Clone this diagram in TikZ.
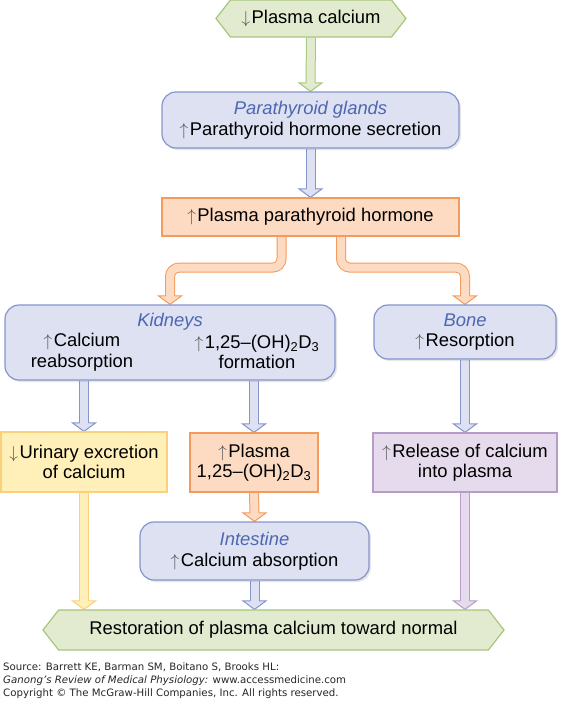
\documentclass[tikz,border=0pt]{standalone}
\usepackage{fontspec}
\setmainfont{Liberation Sans}
\newfontfamily\footfont{DejaVu Sans}
\usetikzlibrary{calc,shapes.symbols,shadows,backgrounds}
\definecolor{GrnFill}{HTML}{E2EBD0}
\definecolor{GrnLine}{HTML}{A7C67B}
\definecolor{BluFill}{HTML}{DDE1F2}
\definecolor{BluLine}{HTML}{8594CC}
\definecolor{BluText}{HTML}{4D67B0}
\definecolor{OrgFill}{HTML}{FDDBC3}
\definecolor{OrgLine}{HTML}{F49A5C}
\definecolor{YelFill}{HTML}{FFEFB8}
\definecolor{YelLine}{HTML}{FBD07A}
\definecolor{PurFill}{HTML}{E6DBEC}
\definecolor{PurLine}{HTML}{B79CC9}
\definecolor{ArrGray}{HTML}{555555}

\newcommand{\arrup}{{\color{ArrGray}$\uparrow$}\hspace{1.5pt}}
\newcommand{\arrdn}{{\color{ArrGray}$\downarrow$}\hspace{1.5pt}}
\newcommand{\organname}[1]{{\color{BluText}\itshape #1}}

\tikzset{
  dhead/.pic={\filldraw (-4.5,8.5) -- (-11.5,8.5) -- (0,0) -- (11.5,8.5) -- (4.5,8.5);},
  arrshaft/.style={draw=#1Line, double=#1Fill, double distance=8pt, line width=1pt},
  arrhead/.style={draw=#1Line, fill=#1Fill, line width=1pt, line join=miter}
}
% straight block arrow: colour, start, tip
\newcommand{\vblk}[3]{%
  \draw[arrshaft=#1] (#2) -- ($(#3)+(0,8)$);
  \pic[arrhead=#1] at (#3) {dhead};
}

\begin{document}
\begin{tikzpicture}[x=1pt, y=1pt, font=\fontsize{18.4}{20.5}\selectfont,
  hexa/.style={signal, signal to=west and east, signal pointer angle=104, draw=GrnLine, fill=GrnFill, line width=1.2pt, inner sep=0pt},
  organ/.style={draw=BluLine, fill=BluFill, line width=1.2pt, rounded corners=14, align=center, inner sep=0pt,
    drop shadow={opacity=0.2, shadow xshift=2pt, shadow yshift=-2pt}},
  conc/.style={draw=#1Line, fill=#1Fill, line width=1.2pt, align=center, inner sep=0pt},
  plain/.style={align=center, inner sep=0pt},
  foot/.style={anchor=west, inner sep=0pt, text=black!85, font=\footfont\fontsize{10.2}{12}\selectfont}
]
\useasboundingbox (0,0) rectangle (564,-701);

\node[hexa, minimum width=190, minimum height=37] (low) at (311,-18.5) {\arrdn Plasma calcium};
\node[organ, minimum width=297, minimum height=56] (glands) at (310.5,-120) {\organname{Parathyroid glands}\\\arrup Parathyroid hormone secretion};
\node[conc=Org, minimum width=297, minimum height=38] (pth) at (310.5,-217) {\arrup Plasma parathyroid hormone};

\node[organ, minimum width=330, minimum height=75] (kid) at (170,-342.5) {};
\node[plain] (kidtitle) at (170,-322) {\organname{Kidneys}};
\node[plain] (kidreab) at (82,-352) {\arrup Calcium\\reabsorption};
\node[plain] (kidform) at (257,-352) {\arrup 1,25--(OH)\textsubscript{2}D\textsubscript{3}\\formation};
\node[organ, minimum width=182, minimum height=54] (bone) at (465,-332) {\organname{Bone}\\\arrup Resorption};

\node[conc=Yel, minimum width=166, minimum height=60] (urine) at (84,-462) {\arrdn Urinary excretion\\of calcium};
\node[conc=Org, minimum width=128, minimum height=59] (plasd) at (254,-462.5) {\arrup Plasma\\1,25--(OH)\textsubscript{2}D\textsubscript{3}};
\node[conc=Pur, minimum width=184, minimum height=59] (release) at (465,-462.5) {\arrup Release of calcium\\into plasma};
\node[organ, minimum width=229, minimum height=58] (gut) at (254.5,-551) {\organname{Intestine}\\\arrup Calcium absorption};

\node[hexa, minimum width=461, minimum height=40] (restore) at (273.5,-630) {Restoration of plasma calcium toward normal};

\node[foot] (src) at (3,-667) {Source: Barrett KE, Barman SM, Boitano S, Brooks HL:};
\node[foot] (book) at (3,-680.5) {\textit{Ganong’s Review of Medical Physiology:} www.accessmedicine.com};
\node[foot] (copy) at (3,-694) {Copyright © The McGraw-Hill Companies, Inc. All rights reserved.};

\begin{scope}[on background layer]
\vblk{Grn}{low.south}{glands.north}
\vblk{Blu}{glands.south}{pth.north}
\draw[arrshaft=Org, rounded corners=9] ($(pth.south)+(-29,0)$) -- ++(0,-31) -| ($(kid.north)+(0,8)$);
\pic[arrhead=Org] at (kid.north) {dhead};
\draw[arrshaft=Org, rounded corners=9] ($(pth.south)+(30.5,0)$) -- ++(0,-31) -| ($(bone.north)+(0,8)$);
\pic[arrhead=Org] at (bone.north) {dhead};
\vblk{Blu}{urine.north |- kid.south}{urine.north}
\vblk{Blu}{plasd.north |- kid.south}{plasd.north}
\vblk{Blu}{bone.south}{release.north}
\vblk{Org}{plasd.south}{gut.north}
\vblk{Yel}{urine.south}{urine.south |- restore.north}
\vblk{Blu}{gut.south}{gut.south |- restore.north}
\vblk{Pur}{release.south}{release.south |- restore.north}
\end{scope}
\end{tikzpicture}
\end{document}
